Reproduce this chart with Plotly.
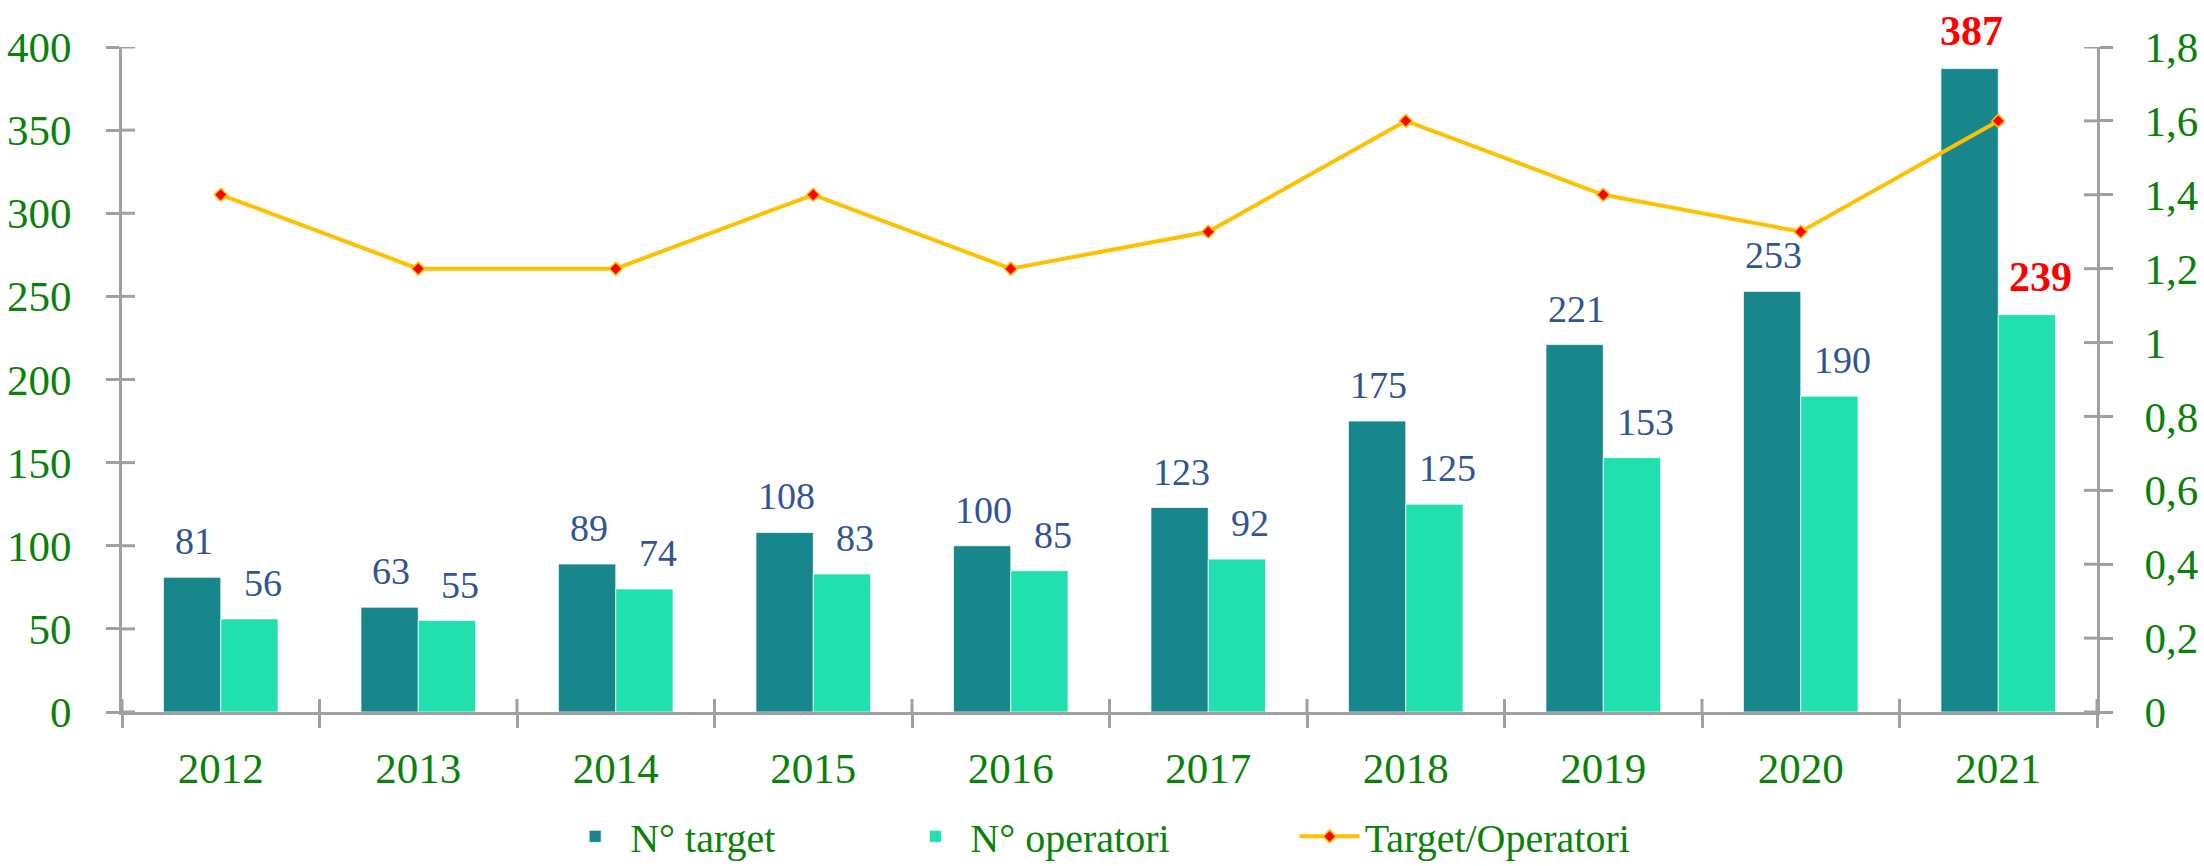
import plotly.graph_objects as go

# ---- data ----
years = ["2012", "2013", "2014", "2015", "2016", "2017", "2018", "2019", "2020", "2021"]
n_target = [81, 63, 89, 108, 100, 123, 175, 221, 253, 387]
n_operatori = [56, 55, 74, 83, 85, 92, 125, 153, 190, 239]
ratio = [1.4, 1.2, 1.2, 1.4, 1.2, 1.3, 1.6, 1.4, 1.3, 1.6]
highlight_year = "2021"

left_ticks = [0, 50, 100, 150, 200, 250, 300, 350, 400]
right_ticks = [0, 0.2, 0.4, 0.6, 0.8, 1.0, 1.2, 1.4, 1.6, 1.8]

PAD = "\u00a0" * 12
name_target = "N° target"
name_oper = "N° operatori"
name_ratio = "Target/Operatori"

# ---- style ----
FONT = "Liberation Serif, serif"
GREEN = "#0A820A"
BLUE = "#2F5597"
RED = "#FF0000"
DARK = "#17878C"
LIGHT = "#22E0AE"
YELLOW = "#FFC000"
GRAY = "#A0A0A0"
TL = 13  # tick half-length in px

fig = go.Figure()

fig.add_trace(go.Bar(
    x=years, y=n_target, name=name_target + PAD,
    marker=dict(color=DARK, line=dict(color="rgba(255,255,255,0.7)", width=1)),
    hoverinfo="skip",
))
fig.add_trace(go.Bar(
    x=years, y=n_operatori, name=name_oper + PAD,
    marker=dict(color=LIGHT, line=dict(color="rgba(255,255,255,0.7)", width=1)),
    hoverinfo="skip",
))
fig.add_trace(go.Scatter(
    x=years, y=ratio, name=name_ratio, yaxis="y2", mode="lines+markers",
    line=dict(color=YELLOW, width=4),
    marker=dict(symbol="diamond", size=10, color=RED, line=dict(color=YELLOW, width=1.5)),
    hoverinfo="skip",
))

# value labels: x given as category index (numeric-looking category names would be
# read as positions by annotations)
annotations = []
for i, (yr, vt, vo) in enumerate(zip(years, n_target, n_operatori)):
    hl = yr == highlight_year
    txt_t = f"<b>{vt}</b>" if hl else str(vt)
    txt_o = f"<b>{vo}</b>" if hl else str(vo)
    f = dict(family=FONT, size=42 if hl else 38, color=RED if hl else BLUE)
    annotations.append(dict(x=i, y=vt, xref="x", yref="y", text=txt_t, showarrow=False,
                            yanchor="bottom", xanchor="center", xshift=-27, yshift=13, font=f))
    annotations.append(dict(x=i, y=vo, xref="x", yref="y", text=txt_o, showarrow=False,
                            yanchor="bottom", xanchor="center", xshift=42, yshift=13, font=f))

# inner halves of the crossing tick marks (outer halves are the axis ticks)
shapes = []
line_style = dict(color=GRAY, width=3)
for v in left_ticks:
    shapes.append(dict(type="line", xref="paper", yref="y", xsizemode="pixel", xanchor=0,
                       x0=0, x1=TL, y0=v, y1=v, line=line_style, layer="above"))
for v in right_ticks:
    shapes.append(dict(type="line", xref="paper", yref="y2", xsizemode="pixel", xanchor=1,
                       x0=-TL, x1=0, y0=v, y1=v, line=line_style, layer="above"))
for i in range(len(years) + 1):
    shapes.append(dict(type="line", xref="x", yref="paper", ysizemode="pixel", yanchor=0,
                       x0=i - 0.5, x1=i - 0.5, y0=0, y1=TL, line=line_style, layer="above"))

tick_font = dict(family=FONT, size=43, color=GREEN)
common_ax = dict(showgrid=False, zeroline=False, tickcolor=GRAY, tickwidth=3, ticklen=TL,
                 showline=True, linecolor=GRAY, linewidth=3, ticks="outside", tickfont=tick_font)

fig.update_layout(
    width=2204, height=866, autosize=False,
    margin=dict(l=122, r=107, t=47, b=154, autoexpand=False),
    paper_bgcolor="white", plot_bgcolor="white",
    separators=",.",
    barmode="group", bargap=0.42, bargroupgap=0,
    font=dict(family=FONT, color=GREEN),
    xaxis=dict(type="category", categoryorder="array", categoryarray=years,
               range=[-0.5, len(years) - 0.5], tickson="boundaries",
               ticklabelstandoff=16, **common_ax),
    yaxis=dict(range=[0, 400], tickvals=left_ticks, ticklabelstandoff=26, **common_ax),
    yaxis2=dict(range=[0, 1.8], tickvals=right_ticks, overlaying="y", side="right",
                ticklabelstandoff=23, **common_ax),
    legend=dict(orientation="h", x=0.494, xanchor="center", y=-0.187, yanchor="middle",
                font=dict(family=FONT, size=40, color=GREEN), itemwidth=60,
                bgcolor="rgba(0,0,0,0)"),
    annotations=annotations,
    shapes=shapes,
)

fig.write_html("out.html", post_script="document.body.style.margin='0';",
               config={"displayModeBar": False})
